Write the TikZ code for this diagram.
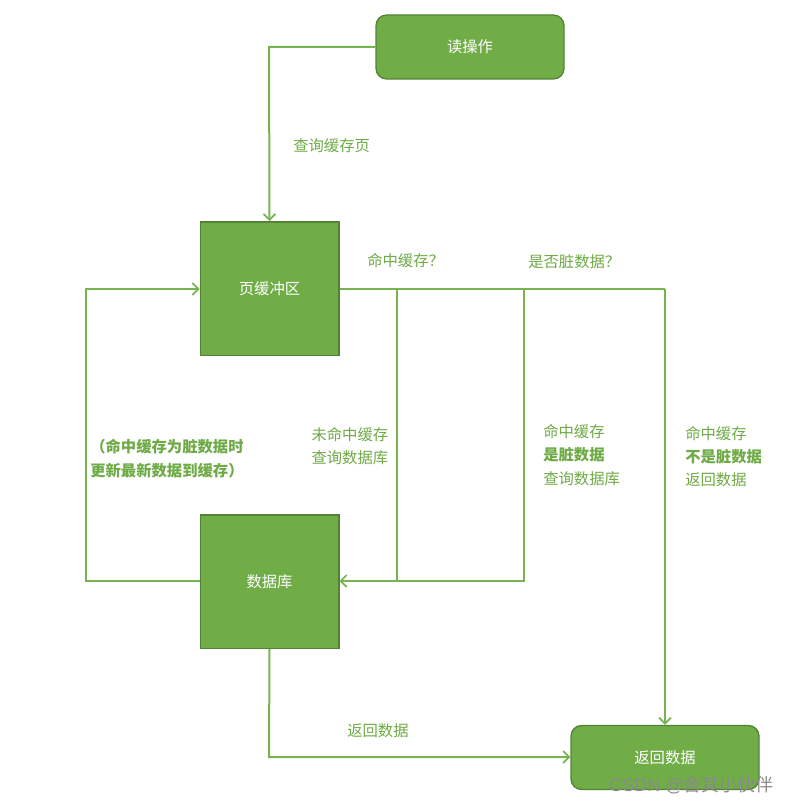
\documentclass[tikz,border=0pt]{standalone}
\usepackage{fontspec}
\setmainfont{Noto Sans CJK SC}
\newfontfamily\wmfont{Liberation Sans}
\usetikzlibrary{arrows.meta}
\definecolor{gfill}{HTML}{70AD47}
\definecolor{gedge}{HTML}{548235}
\definecolor{gline}{HTML}{77B350}
\definecolor{gtext}{HTML}{6EAA45}
\definecolor{wmgray}{HTML}{8A8A8A}
\tikzset{
  box/.style={draw=gedge, line width=1pt, fill=gfill, text=white, font=\fontsize{11.5pt}{14pt}\selectfont, inner sep=0pt},
  rbox/.style={box, rounded corners=8pt, minimum width=141pt, minimum height=48pt},
  sbox/.style={box, minimum width=104pt, minimum height=100pt},
  conn/.style={draw=gline, line width=1.5pt, -{Straight Barb[length=4.5pt,width=9pt,line width=1.3pt]}},
  seg/.style={draw=gline, line width=1.5pt},
  lbl/.style={text=gtext, font=\fontsize{11.5pt}{17.5pt}\selectfont, inner sep=0pt, align=left},
}
\begin{document}
\begin{tikzpicture}[x=0.75pt,y=-0.75pt]
\useasboundingbox (0,0) rectangle (789,806);
\node[rbox] (read) at (470,47) {读操作};
\node[sbox] (buf) at (269.5,288.5) {页缓冲区};
\node[sbox] (db) at (269.5,581.5) {数据库};
\node[rbox] (ret) at (665,757.5) {返回数据};
\coordinate (c1) at (269,47);
\coordinate (b1) at (397,289);
\coordinate (b2) at (524,289);
\coordinate (b3) at (665,289);
\coordinate (d1) at (397,581);
\coordinate (d2) at (524,581);
\coordinate (l1) at (86,581);
\coordinate (l2) at (86,289);
\coordinate (r1) at (269,757);
\path[conn] (read.west) -- (c1) -- (buf.north);
\path[seg] (buf.east |- b1) -- (b3);
\path[conn] (b3) -- (ret.north);
\path[conn] (b1) -- (d1) -- (db.east |- d1);
\path[seg] (b2) -- (d2) -- (d1);
\path[conn] (db.west |- l1) -- (l1) -- (l2) -- (buf.west |- l2);
\path[conn] (db.south) -- (r1) -- (ret.west |- r1);
\node[lbl, anchor=west] (q1) at (293,146) {查询缓存页};
\node[lbl, anchor=west] (q2) at (367,261) {命中缓存？};
\node[lbl, anchor=west] (q3) at (528,262) {是否脏数据？};
\node[lbl, anchor=east, align=right] (q4) at (388.5,446) {未命中缓存\\查询数据库};
\node[lbl, anchor=west] (q5) at (543,455) {命中缓存\\\textbf{是脏数据}\\查询数据库};
\node[lbl, anchor=west] (q6) at (685,456.5) {命中缓存\\\textbf{不是脏数据}\\返回数据};
\node[lbl, anchor=west, font=\bfseries\fontsize{11.5pt}{17.5pt}\selectfont] (q7) at (90,458.5) {（命中缓存为脏数据时\\更新最新数据到缓存）};
\node[lbl, anchor=west] (q8) at (347,731) {返回数据};
\node[text=wmgray, font=\fontsize{13.5pt}{16pt}\selectfont, inner sep=0pt, anchor=east] (wm) at (774,785) {\wmfont CSDN @\rmfamily 舍其小伙伴};
\end{tikzpicture}
\end{document}
